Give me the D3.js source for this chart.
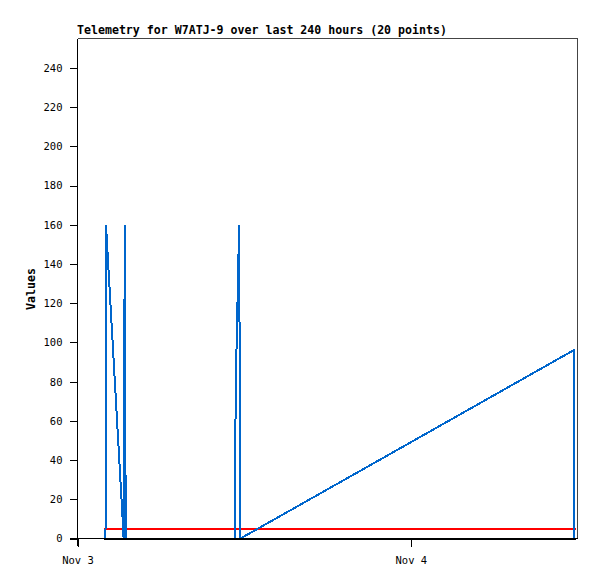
<!DOCTYPE html>
<html>
<head>
<meta charset="utf-8">
<script src="https://cdn.jsdelivr.net/npm/d3@7"></script>
<style>
  body { margin: 0; background: #fff; }
  svg { display: block; }
</style>
</head>
<body>
<div id="chart"></div>
<script>

// Telemetry values (time, value)
var valueTimes = [
	"2023-11-03 02:01", "2023-11-03 02:03", "2023-11-03 03:14", "2023-11-03 03:19",
	"2023-11-03 03:21", "2023-11-03 03:25", "2023-11-03 03:28", "2023-11-03 11:20",
	"2023-11-03 11:23", "2023-11-03 11:27", "2023-11-03 11:34", "2023-11-03 11:38",
	"2023-11-03 11:41", "2023-11-03 11:44", "2023-11-04 11:43", "2023-11-04 11:45"
];
var values = [0, 160, 12, 0, 80, 160, 0, 0, 69, 97, 136, 160, 80, 0, 96, 0];

// Constant channels
var limitTimes = ["2023-11-03 01:56", "2023-11-04 11:52"];
var limitValues = [5, 5];
var zeroValues = [0, 0];

var xDomain = ["2023-11-03 00:00", "2023-11-04 12:00"];
var yTicks = [0, 20, 40, 60, 80, 100, 120, 140, 160, 180, 200, 220, 240];
var xTicks = ["2023-11-03 00:00", "2023-11-04 00:00"];
var xTickLabels = ["Nov 3", "Nov 4"];

var parse = d3.timeParse("%Y-%m-%d %H:%M");

// Display sizes
var width = 597, height = 579;
var plot = { left: 77.5, right: 577.5, top: 38.5, bottom: 538.5 };

var svg = d3.select("#chart").append("svg")
	.attr("width", width)
	.attr("height", height)
	.style("font-family", "'DejaVu Sans Mono', monospace");

var x = d3.scaleTime()
	.domain(xDomain.map(parse))
	.range([plot.left, plot.right]);

var y = d3.scaleLinear()
	.domain([0, 255])
	.range([plot.bottom, plot.top]);

// Frame (top and right)
svg.append("path")
	.attr("d", "M" + plot.left + "," + plot.top + "H" + plot.right + "V" + plot.bottom)
	.attr("fill", "none")
	.attr("stroke", "#444")
	.attr("stroke-width", 1)
	.attr("shape-rendering", "crispEdges");

// Y axis
var yAxis = svg.append("g")
	.attr("transform", "translate(" + plot.left + ",0)")
	.call(d3.axisLeft(y).tickValues(yTicks).tickSize(8).tickPadding(7).tickSizeOuter(0));
yAxis.select(".domain").remove();
yAxis.append("line")
	.attr("x1", 0).attr("x2", 0)
	.attr("y1", plot.top).attr("y2", plot.bottom + 7)
	.attr("stroke", "#000");

// X axis
var xAxis = svg.append("g")
	.attr("transform", "translate(0," + plot.bottom + ")")
	.call(d3.axisBottom(x)
		.tickValues(xTicks.map(parse))
		.tickFormat(function(d, i) { return xTickLabels[i]; })
		.tickSize(8).tickPadding(10).tickSizeOuter(0));
xAxis.select(".domain").remove();
xAxis.append("line")
	.attr("x1", plot.left - 8).attr("x2", plot.right)
	.attr("y1", 0).attr("y2", 0)
	.attr("stroke", "#000");

svg.selectAll(".tick text")
	.attr("font-size", 10.5)
	.attr("font-family", "'DejaVu Sans Mono', monospace")
	.attr("fill", "#000");
svg.selectAll(".tick line, line").attr("shape-rendering", "crispEdges");

// Series
var line = d3.line()
	.x(function(d) { return x(d.t); })
	.y(function(d) { return y(d.v); });

function series(times, vals) {
	return times.map(function(t, i) { return { t: parse(t), v: vals[i] }; });
}

svg.append("path")
	.datum(series(limitTimes, limitValues))
	.attr("d", line)
	.attr("fill", "none")
	.attr("stroke", "#ff0000")
	.attr("stroke-width", 2)
	.attr("shape-rendering", "crispEdges");

svg.append("path")
	.datum(series(valueTimes, values))
	.attr("d", line)
	.attr("fill", "none")
	.attr("stroke", "#0066cc")
	.attr("stroke-width", 2)
	.attr("stroke-linejoin", "miter")
	.attr("shape-rendering", "crispEdges");

svg.append("path")
	.datum(series(limitTimes, zeroValues))
	.attr("d", line)
	.attr("fill", "none")
	.attr("stroke", "#000")
	.attr("stroke-width", 2)
	.attr("shape-rendering", "crispEdges");

// Title
svg.append("text")
	.attr("x", 77)
	.attr("y", 34)
	.attr("font-size", 11.6)
	.attr("font-weight", "bold")
	.text("Telemetry for W7ATJ-9 over last 240 hours (20 points)");

// Y label
svg.append("text")
	.attr("transform", "translate(35,289) rotate(-90)")
	.attr("text-anchor", "middle")
	.attr("font-size", 11.6)
	.attr("font-weight", "bold")
	.text("Values");

</script>
</body>
</html>
